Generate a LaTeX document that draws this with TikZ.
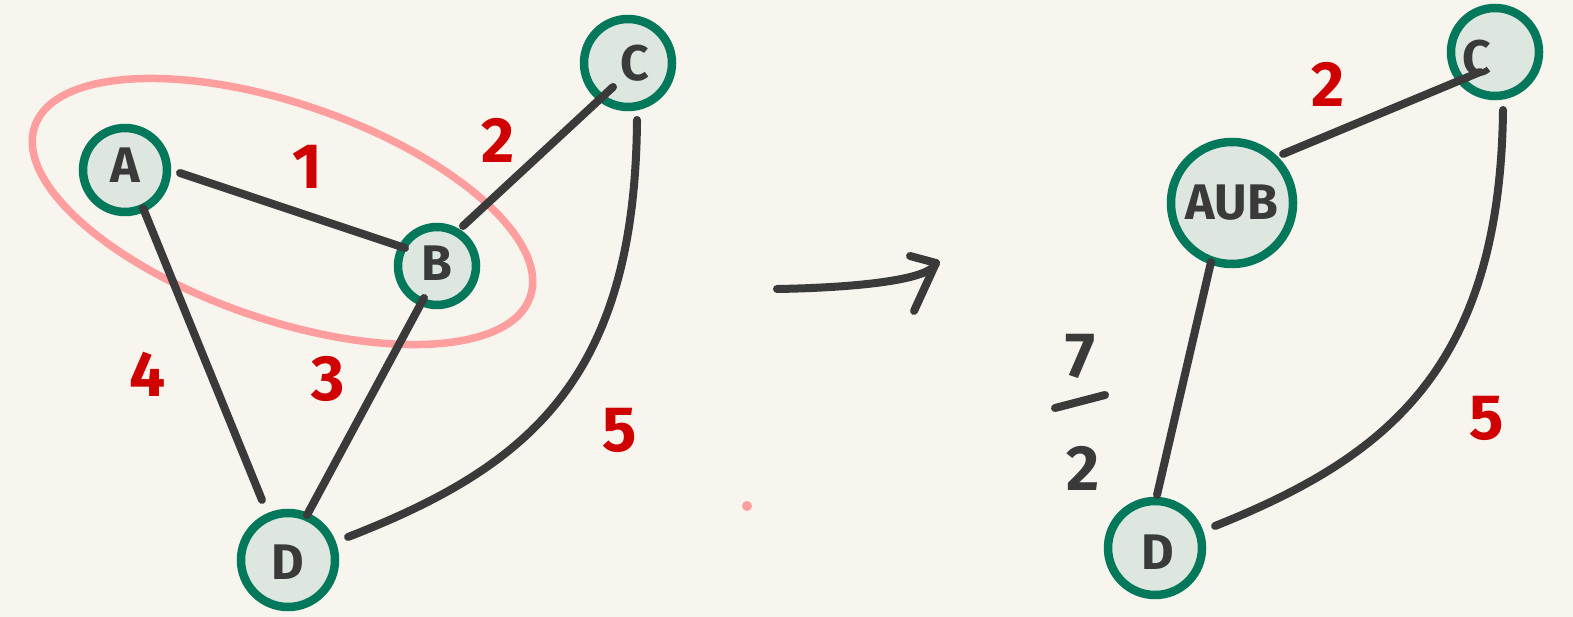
\documentclass[tikz,border=0pt]{standalone}
\usepackage{fontspec}
\setmainfont{Fira Sans}
\usetikzlibrary{calc}
\definecolor{bg}{HTML}{F7F5EE}
\definecolor{nodefill}{HTML}{DDE7E0}
\definecolor{nodeline}{HTML}{04785A}
\definecolor{edgecol}{HTML}{3A3A3A}
\definecolor{labred}{HTML}{D00000}
\definecolor{ellcol}{HTML}{FF9E9E}
\tikzset{
  vtx/.style={circle, draw=nodeline, fill=nodefill, line width=8.5pt, inner sep=0pt, minimum size=#1},
  vtxtext/.style={font=\fontsize{50}{50}\selectfont\bfseries, text=edgecol},
  edge/.style={draw=edgecol, line width=8pt, line cap=round},
  wlab/.style={font=\fontsize{64}{64}\selectfont\bfseries, text=labred},
  blab/.style={font=\fontsize{64}{64}\selectfont\bfseries, text=edgecol},
}
\begin{document}
\begin{tikzpicture}[x=1pt,y=-1pt]
\fill[bg] (0,0) rectangle (1573,617);
\useasboundingbox (0,0) rectangle (1573,617);
% contraction ellipse
\draw[ellcol, line width=7.5pt] (282.5,211.5) ellipse[x radius=262, y radius=108, rotate=-19];
% left graph nodes
\node[vtx=84pt] (A) at (125,170) {};
\node[vtx=78pt] (B) at (437,266) {};
\node[vtx=88pt] (C) at (628,63) {};
\node[vtx=94pt] (D) at (288,560) {};
\node[vtxtext] at (125,165) {A};
\node[vtxtext] at (437,263) {B};
\node[vtxtext] at (635,63) {C};
\node[vtxtext] at (288,562) {D};
% left edges
\draw[edge] ($(A)+(55,3)$) -- ($(B)+(-32,-18)$);
\draw[edge] ($(B)+(26,-40)$) -- ($(C)+(-15,24)$);
\draw[edge] ($(A)+(18,38)$) -- ($(D)+(-26,-60)$);
\draw[edge] ($(B)+(-13,32)$) -- ($(D)+(19,-45)$);
\draw[edge] ($(C)+(9,57)$) .. controls ($(C)+(7,317)$) and ($(D)+(240,-93)$) .. ($(D)+(60,-23)$);
% left weights
\node[wlab] (w1) at (307,167) {1};
\node[wlab] (w2) at (498,140) {2};
\node[wlab] (w4) at (148,374) {4};
\node[wlab] (w3) at (328,379) {3};
\node[wlab] (w5) at (620,430) {5};
% dot
\fill[ellcol] (747,506) circle (5pt);
% arrow
\coordinate (arrS) at (777,289);
\coordinate (arrE) at (936,263);
\draw[edge] (arrS) .. controls (840,288) and (930,282) .. (arrE);
\draw[edge, line join=round] (910,256) -- (arrE) -- (914,311);
% right graph nodes
\node[vtx=122pt] (AB) at (1232,203) {};
\node[vtx=88pt] (C2) at (1495,52) {};
\node[vtx=94pt] (D2) at (1155,548) {};
\node[vtxtext] at (1232,203) {AUB};
\node[vtxtext] at (1477,58) {C};
\node[vtxtext] at (1158,552) {D};
% right edges
\draw[edge] ($(AB)+(51,-49)$) -- ($(C2)+(-15,20)$);
\draw[edge] ($(AB)+(-21,59)$) -- ($(D2)+(2,-53)$);
\draw[edge] ($(C2)+(8,58)$) .. controls ($(C2)+(5,318)$) and ($(D2)+(230,-90)$) .. ($(D2)+(60,-22)$);
% right weights
\node[wlab] (r2) at (1328,84) {2};
\node[wlab] (r5) at (1487,418) {5};
\node[blab] (f7) at (1080,356) {7};
\coordinate (barL) at (1055,408);
\coordinate (barR) at (1105,395);
\draw[edge] (barL) -- (barR);
\node[blab] (f2) at (1083,468) {2};
\end{tikzpicture}
\end{document}
